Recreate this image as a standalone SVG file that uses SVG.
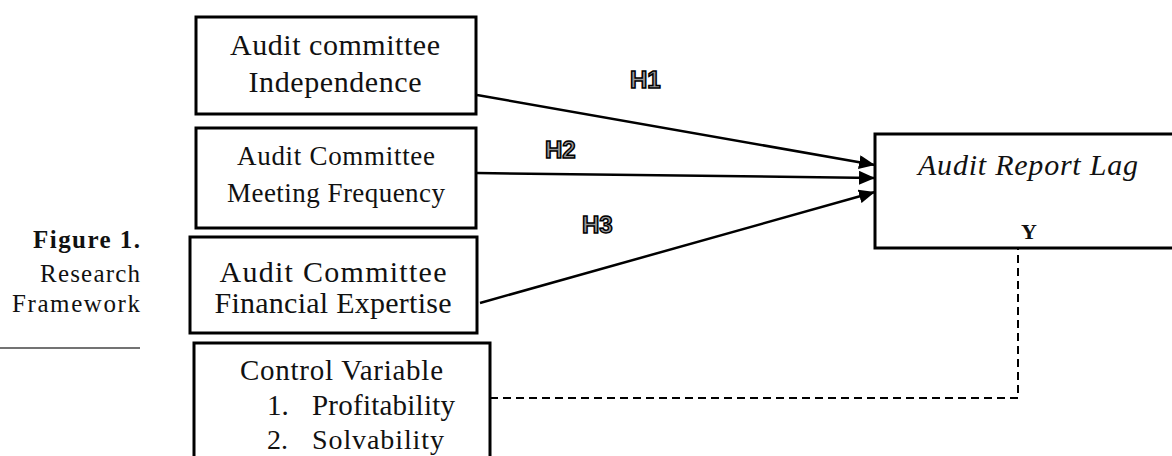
<svg xmlns="http://www.w3.org/2000/svg" width="1172" height="456" viewBox="0 0 1172 456">
<style>
.box{fill:#fff;stroke:#000;stroke-width:3}
.t{font-family:"Liberation Serif","Times New Roman",serif;fill:#111;text-anchor:middle}
.s{font-family:"Liberation Serif","Times New Roman",serif;fill:#111;text-anchor:start}
.cap{font-family:"Liberation Serif","Times New Roman",serif;fill:#111;text-anchor:end;font-size:25px}
.h{font-family:"Liberation Sans",Arial,sans-serif;font-weight:bold;font-size:24px;fill:#999;stroke:#000;stroke-width:1.5}
.arr{stroke:#000;stroke-width:2.5;fill:none;marker-end:url(#ah)}
.dash{stroke:#000;stroke-width:2;fill:none;stroke-dasharray:8 5}
</style>
<defs>
<marker id="ah" viewBox="0 0 16 14" refX="16" refY="7" markerWidth="16" markerHeight="14" markerUnits="userSpaceOnUse" orient="auto">
<path d="M0,0 L16,7 L0,14 Z" fill="#000"/>
</marker>
</defs>
<rect width="1172" height="456" fill="#fff"/>
<g id="caption">
<text class="cap" x="140" y="248" font-weight="bold" textLength="107">Figure 1.</text>
<text class="cap" x="140" y="282" textLength="100">Research</text>
<text class="cap" x="140" y="312" textLength="128">Framework</text>
<line x1="0" y1="348" x2="140" y2="348" stroke="#444" stroke-width="1.5"/>
</g>
<g id="connectors">
<line class="arr" x1="477" y1="95" x2="875" y2="165"/>
<line class="arr" x1="477" y1="173" x2="875" y2="178"/>
<line class="arr" x1="480" y1="303" x2="875" y2="192"/>
<path class="dash" d="M490 398 H1018 V243"/>
</g>
<g id="labels">
<text class="h" x="630" y="88">H1</text>
<text class="h" x="545" y="158">H2</text>
<text class="h" x="582" y="233">H3</text>
</g>
<g id="node-independence">
<rect class="box" x="196" y="17" width="280" height="97"/>
<text class="t" x="335" y="55" font-size="30" textLength="210">Audit committee</text>
<text class="t" x="335" y="92" font-size="30" textLength="173">Independence</text>
</g>
<g id="node-meeting">
<rect class="box" x="196" y="128" width="280" height="100"/>
<text class="t" x="336" y="165" font-size="27" textLength="198">Audit Committee</text>
<text class="t" x="336" y="202" font-size="27" textLength="218">Meeting Frequency</text>
</g>
<g id="node-expertise">
<rect class="box" x="190" y="237" width="287" height="96"/>
<text class="t" x="333" y="282" font-size="30" textLength="227">Audit Committee</text>
<text class="t" x="333" y="313" font-size="30" textLength="237">Financial Expertise</text>
</g>
<g id="node-control">
<rect class="box" x="194" y="343" width="296" height="130"/>
<text class="s" x="240" y="380" font-size="29" textLength="203">Control Variable</text>
<text class="s" x="267" y="415" font-size="29">1.</text>
<text class="s" x="312" y="415" font-size="29" textLength="143">Profitability</text>
<text class="s" x="267" y="449" font-size="28">2.</text>
<text class="s" x="312" y="449" font-size="28" textLength="132">Solvability</text>
</g>
<g id="node-arl">
<rect class="box" x="875" y="134" width="310" height="114"/>
<text class="t" x="1028" y="175" font-size="30" font-style="italic" textLength="220">Audit Report Lag</text>
<text class="t" x="1029" y="239" font-size="22" font-weight="bold">Y</text>
</g>
</svg>
